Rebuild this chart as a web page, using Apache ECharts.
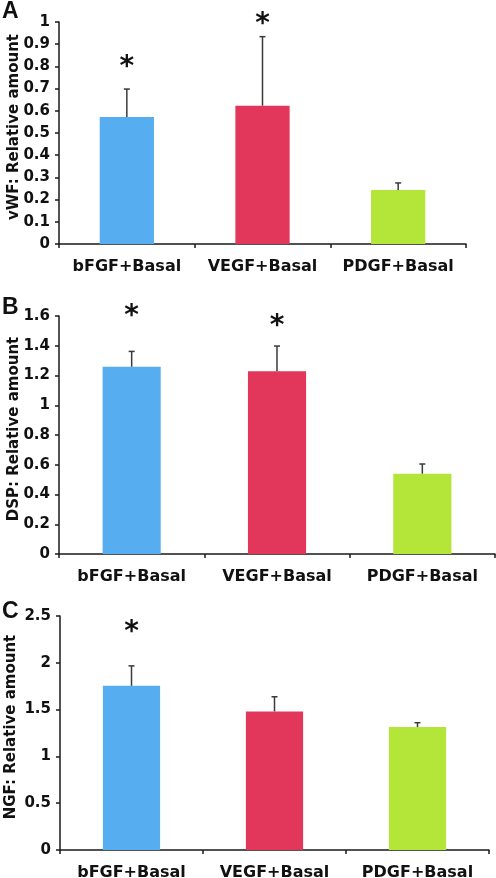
<!DOCTYPE html>
<html><head><meta charset="utf-8">
<script src="https://cdn.jsdelivr.net/npm/echarts@6/dist/echarts.min.js"></script>
<style>html,body{margin:0;padding:0;background:#fff}#c{width:496px;height:878px}</style>
</head><body><div id="c"></div>
<script>
const categories = ['bFGF+Basal', 'VEGF+Basal', 'PDGF+Basal'];
const barColors = ['#56aef0', '#e2375a', '#b3e639'];

const vwfMean  = [0.572, 0.623, 0.243];
const vwfUpper = [0.698, 0.934, 0.275];
const vwfStar  = [0.815, 1.01, null];

const dspMean  = [1.259, 1.228, 0.540];
const dspUpper = [1.362, 1.398, 0.605];
const dspStar  = [1.631, 1.564, null];

const ngfMean  = [1.754, 1.481, 1.314];
const ngfUpper = [1.967, 1.637, 1.360];
const ngfStar  = [2.372, null, null];

const panelNames = ['vWF: Relative amount', 'DSP: Relative amount', 'NGF: Relative amount'];
const panelLetters = ['A', 'B', 'C'];
const yMax = [1, 1.6, 2.5];
const yStep = [0.1, 0.2, 0.5];

const panels = [
  {mean: vwfMean, upper: vwfUpper, star: vwfStar},
  {mean: dspMean, upper: dspUpper, star: dspStar},
  {mean: ngfMean, upper: ngfUpper, star: ngfStar}
];

const grids = [
  {left: 59, top: 22, width: 407, height: 222, containLabel: false, outerBoundsMode: 'none'},
  {left: 59, top: 316, width: 436, height: 238, containLabel: false, outerBoundsMode: 'none'},
  {left: 60, top: 616, width: 429, height: 234, containLabel: false, outerBoundsMode: 'none'}
];
const letterPos = [[2, 0], [2, 296], [2, 600]];
const nameGaps = [37, 37, 41];

const FONT = '"DejaVu Sans", Verdana, sans-serif';
const axisColor = '#1a1a1a';

function errRender(params, api) {
  const x = api.value(0), lo = api.value(1), hi = api.value(2);
  const p0 = api.coord([x, lo]), p1 = api.coord([x, hi]);
  const st = {stroke: '#3a3a3a', lineWidth: 1.5};
  return {type: 'group', children: [
    {type: 'line', shape: {x1: p0[0], y1: p0[1], x2: p1[0], y2: p1[1]}, style: st},
    {type: 'line', shape: {x1: p1[0] - 3, y1: p1[1], x2: p1[0] + 3, y2: p1[1]}, style: st}
  ]};
}
function starRender(params, api) {
  const p = api.coord([api.value(0), api.value(1)]);
  return {type: 'text', x: p[0], y: p[1] + 5, style: {
    text: '*', fill: '#111', font: 'bold 28px ' + FONT, align: 'center', verticalAlign: 'middle'
  }};
}

const xAxis = [], yAxis = [], series = [], graphic = [];
panels.forEach((pn, k) => {
  xAxis.push({
    type: 'category', gridIndex: k, data: categories,
    axisLine: {lineStyle: {color: axisColor, width: 1.5}},
    axisTick: {show: true, length: 4, lineStyle: {color: axisColor, width: 1.5}},
    axisLabel: {interval: 0, hideOverlap: false, margin: 15, color: '#111', fontFamily: FONT, fontWeight: 'bold', fontSize: 16},
    splitLine: {show: false}
  });
  yAxis.push({
    type: 'value', gridIndex: k, min: 0, max: yMax[k], interval: yStep[k],
    name: panelNames[k], nameLocation: 'middle', nameGap: nameGaps[k], nameRotate: 90,
    nameMoveOverlap: false,
    nameTextStyle: {color: '#111', fontFamily: FONT, fontWeight: 'bold', fontSize: 15, padding: [0, 0, 0, 12]},
    axisLine: {show: true, lineStyle: {color: axisColor, width: 1.5}},
    axisTick: {show: true, length: 4, lineStyle: {color: axisColor, width: 1.5}},
    axisLabel: {margin: 9, color: '#111', fontFamily: FONT, fontWeight: 'bold', fontSize: 15},
    splitLine: {show: false}
  });
  series.push({
    type: 'bar', xAxisIndex: k, yAxisIndex: k, barWidth: '40%',
    data: pn.mean.map((v, i) => ({value: v, itemStyle: {color: barColors[i]}})),
    z: 2
  });
  series.push({
    type: 'custom', xAxisIndex: k, yAxisIndex: k, renderItem: errRender,
    data: pn.mean.map((v, i) => [i, v, pn.upper[i]]), z: 3
  });
  series.push({
    type: 'custom', xAxisIndex: k, yAxisIndex: k, renderItem: starRender, clip: false,
    data: pn.star.map((v, i) => [i, v]).filter(d => d[1] !== null), z: 4
  });
  graphic.push({
    type: 'text', left: letterPos[k][0], top: letterPos[k][1],
    style: {text: panelLetters[k], fill: '#111', font: 'bold 23px "Liberation Sans", Arial, sans-serif'}
  });
});

const chart = echarts.init(document.getElementById('c'), null, {renderer: 'canvas'});
chart.setOption({
  animation: false,
  backgroundColor: '#fff',
  grid: grids,
  xAxis: xAxis,
  yAxis: yAxis,
  series: series,
  graphic: graphic
});
</script>
</body></html>
